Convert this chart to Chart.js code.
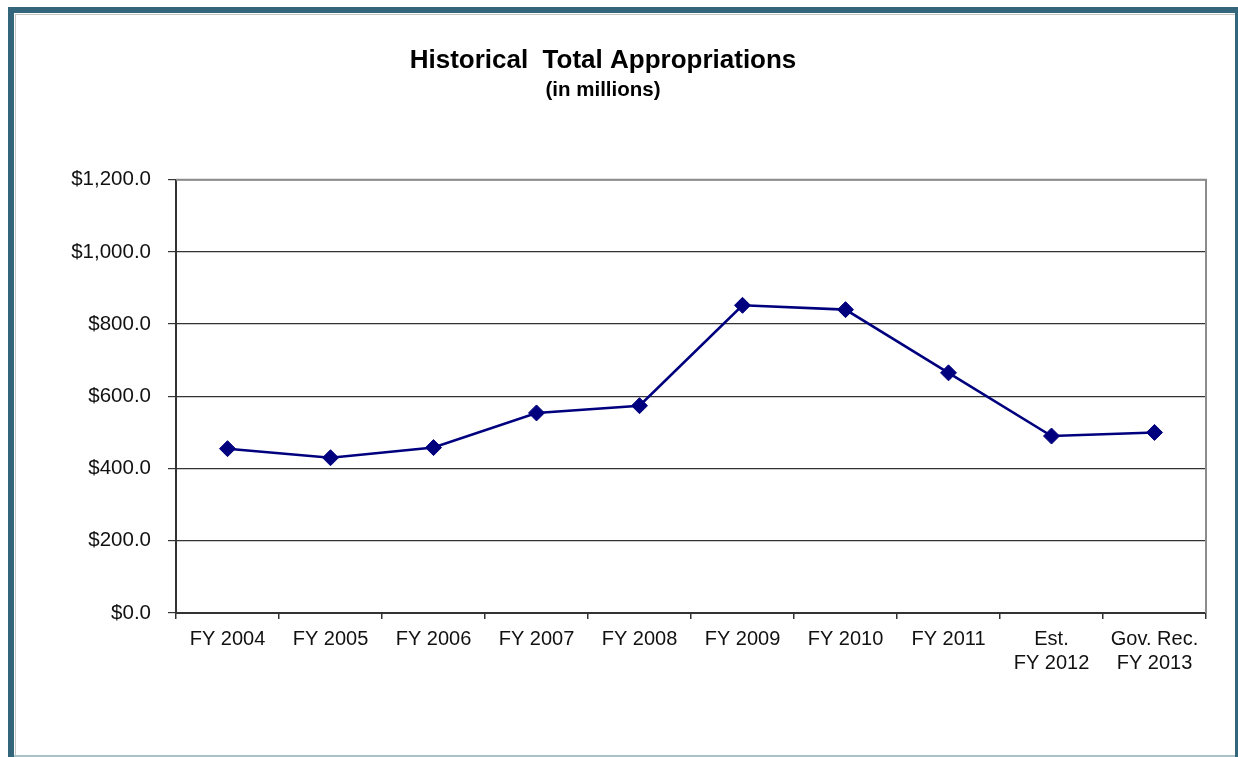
<!DOCTYPE html>
<html>
<head>
<meta charset="utf-8">
<title>Historical Total Appropriations</title>
<script src="https://cdn.jsdelivr.net/npm/chart.js@4.4.1/dist/chart.umd.min.js"></script>
<style>
  html, body { margin: 0; padding: 0; background: #ffffff; }
  #wrap { position: relative; width: 1238px; height: 757px; overflow: hidden; }
  canvas { position: absolute; left: 0; top: 0; }
  .edge { position: absolute; pointer-events: none; }
</style>
</head>
<body>
<div id="wrap">
  <canvas id="chart" width="1238" height="757"></canvas>
  <!-- page frame -->
  <div class="edge" style="left:8px; top:7px; width:1230px; height:6px; background:#33667a;"></div>
  <div class="edge" style="left:8px; top:7px; width:6px; height:750px; background:#33667a;"></div>
  <div class="edge" style="left:1235px; top:7px; width:3px; height:750px; background:#33667a;"></div>
  <div class="edge" style="left:15px; top:14px; width:1220px; height:1px; background:#c4c4c4;"></div>
  <div class="edge" style="left:15px; top:14px; width:1px; height:743px; background:#c4c4c4;"></div>
  <div class="edge" style="left:14px; top:755px; width:1221px; height:2px; background:#a9c2ca;"></div>
</div>
<script>
// Fiscal years shown along the bottom axis
const categories = [
  'FY 2004', 'FY 2005', 'FY 2006', 'FY 2007', 'FY 2008',
  'FY 2009', 'FY 2010', 'FY 2011', ['Est.', 'FY 2012'], ['Gov. Rec.', 'FY 2013']
];

// Total appropriations, millions of dollars
const appropriations = [455, 430, 458, 554, 574, 852, 840, 665, 490, 500];

// Value axis labels, bottom to top
const yTickValues = [0, 200, 400, 600, 800, 1000, 1200];
const yTickLabels = ['$0.0', '$200.0', '$400.0', '$600.0', '$800.0', '$1,000.0', '$1,200.0'];

const FONT = "'Liberation Sans', Arial, sans-serif";

// Light gray top and right edges of the plot area
const plotEdges = {
  id: 'plotEdges',
  afterDraw(chart) {
    const { ctx, chartArea: a } = chart;
    ctx.save();
    ctx.strokeStyle = '#8c8c8c';
    ctx.lineWidth = 2;
    ctx.beginPath();
    ctx.moveTo(a.left, a.top);
    ctx.lineTo(a.right, a.top);
    ctx.lineTo(a.right, a.bottom);
    ctx.stroke();
    ctx.restore();
  }
};

new Chart(document.getElementById('chart'), {
  type: 'line',
  data: {
    labels: categories,
    datasets: [{
      label: 'Total Appropriations',
      data: appropriations,
      borderColor: '#00007f',
      backgroundColor: '#00007f',
      borderWidth: 2.6,
      pointStyle: 'rectRot',
      pointRadius: 8,
      pointHoverRadius: 8,
      pointBackgroundColor: '#00007f',
      pointBorderColor: '#00007f',
      pointBorderWidth: 1,
      tension: 0,
      fill: false
    }]
  },
  options: {
    responsive: false,
    animation: false,
    events: [],
    layout: { padding: { left: 0, right: 32, top: 0, bottom: 0 } },
    plugins: {
      legend: { display: false },
      tooltip: { enabled: false },
      title: {
        display: true,
        text: 'Historical  Total Appropriations',
        color: '#000000',
        font: { family: FONT, size: 26, weight: 'bold', lineHeight: 1.25 },
        padding: { top: 45, bottom: 0 }
      },
      subtitle: {
        display: true,
        text: '(in millions)',
        color: '#000000',
        font: { family: FONT, size: 20.5, weight: 'bold', lineHeight: 1.25 },
        padding: { top: 0, bottom: 76.5 }
      }
    },
    scales: {
      x: {
        type: 'category',
        offset: true,
        grid: {
          offset: true,
          drawOnChartArea: false,
          drawTicks: true,
          tickLength: 6,
          color: '#333333',
          lineWidth: 1.5
        },
        border: { display: true, color: '#333333', width: 2 },
        ticks: {
          color: '#111111',
          font: { family: FONT, size: 20, lineHeight: 1.2 },
          padding: 8,
          maxRotation: 0,
          autoSkip: false
        },
        afterFit(scale) { scale.height = 144; }
      },
      y: {
        min: 0,
        max: 1200,
        afterBuildTicks(scale) {
          scale.ticks = yTickValues.map(v => ({ value: v }));
        },
        grid: {
          color: '#333333',
          lineWidth: 1.2,
          drawTicks: true,
          tickLength: 8
        },
        border: { display: true, color: '#333333', width: 2 },
        ticks: {
          color: '#111111',
          font: { family: FONT, size: 20.5 },
          padding: 17,
          callback(value) {
            const i = yTickValues.indexOf(value);
            return i >= 0 ? yTickLabels[i] : '';
          }
        },
        afterFit(scale) { scale.width = 176; }
      }
    }
  },
  plugins: [plotEdges]
});
</script>
</body>
</html>
